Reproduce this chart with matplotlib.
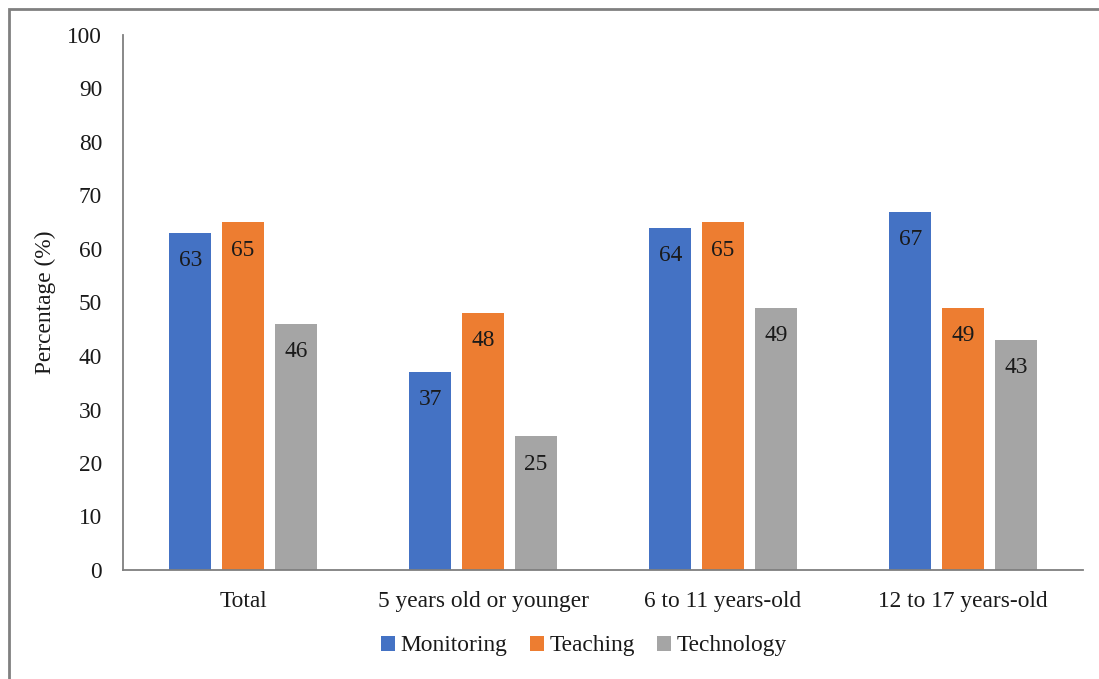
import matplotlib
matplotlib.use("Agg")
import matplotlib.pyplot as plt
import numpy as np
from matplotlib.patches import Rectangle

plt.rcParams['font.family'] = ['Liberation Serif', 'DejaVu Serif']

categories = ["Total", "5 years old or younger", "6 to 11 years-old", "12 to 17 years-old"]
series_names = ["Monitoring", "Teaching", "Technology"]
monitoring = [63, 37, 64, 67]
teaching = [65, 48, 65, 49]
technology = [46, 25, 49, 43]
colors = ["#4472C4", "#ED7D31", "#A5A5A5"]

FS = 16.8
fig = plt.figure(figsize=(10.99, 6.79), dpi=100)
ax = fig.add_axes([123/1099, 1-570/679, (1083-123)/1099, (570-35)/679])

x = np.arange(len(categories))
offsets = [-0.22, 0.0, 0.22]
width = 0.175
for vals, name, col, off in zip([monitoring, teaching, technology], series_names, colors, offsets):
    bars = ax.bar(x + off, vals, width=width, color=col, label=name, zorder=2)
    for b, v in zip(bars, vals):
        ax.annotate(str(v), (b.get_x() + b.get_width()/2, v), xytext=(0, -20),
                    textcoords='offset points', ha='center', va='center',
                    fontsize=FS, color='#1a1a1a')

ax.set_xlim(-0.5, 3.5)
ax.set_ylim(0, 100)
ax.set_yticks(range(0, 101, 10))
ax.set_xticks(x)
ax.set_xticklabels(categories)
ax.tick_params(axis='both', length=0, labelsize=FS, colors='#1a1a1a')
ax.tick_params(axis='y', pad=15)
ax.tick_params(axis='x', pad=15)
for s in ['top', 'right']:
    ax.spines[s].set_visible(False)
for s in ['left', 'bottom']:
    ax.spines[s].set_color('#7f7f7f')
    ax.spines[s].set_linewidth(1.3)
ax.set_ylabel("Percentage (%)", fontsize=FS, color='#1a1a1a', labelpad=8)

leg = fig.legend(loc='center', bbox_to_anchor=(584/1099, 1-646/679), ncol=3, frameon=False,
                 fontsize=FS, handlelength=0.6, handleheight=0.6, handletextpad=0.25,
                 columnspacing=0.95)
for t in leg.get_texts():
    t.set_color('#1a1a1a')

fig.patches.append(Rectangle((9/1099, -0.2), 1.2, 1.2 - 9/679, transform=fig.transFigure,
                             fill=False, edgecolor='#808080', linewidth=2))

fig.savefig("out.png", dpi=100)
